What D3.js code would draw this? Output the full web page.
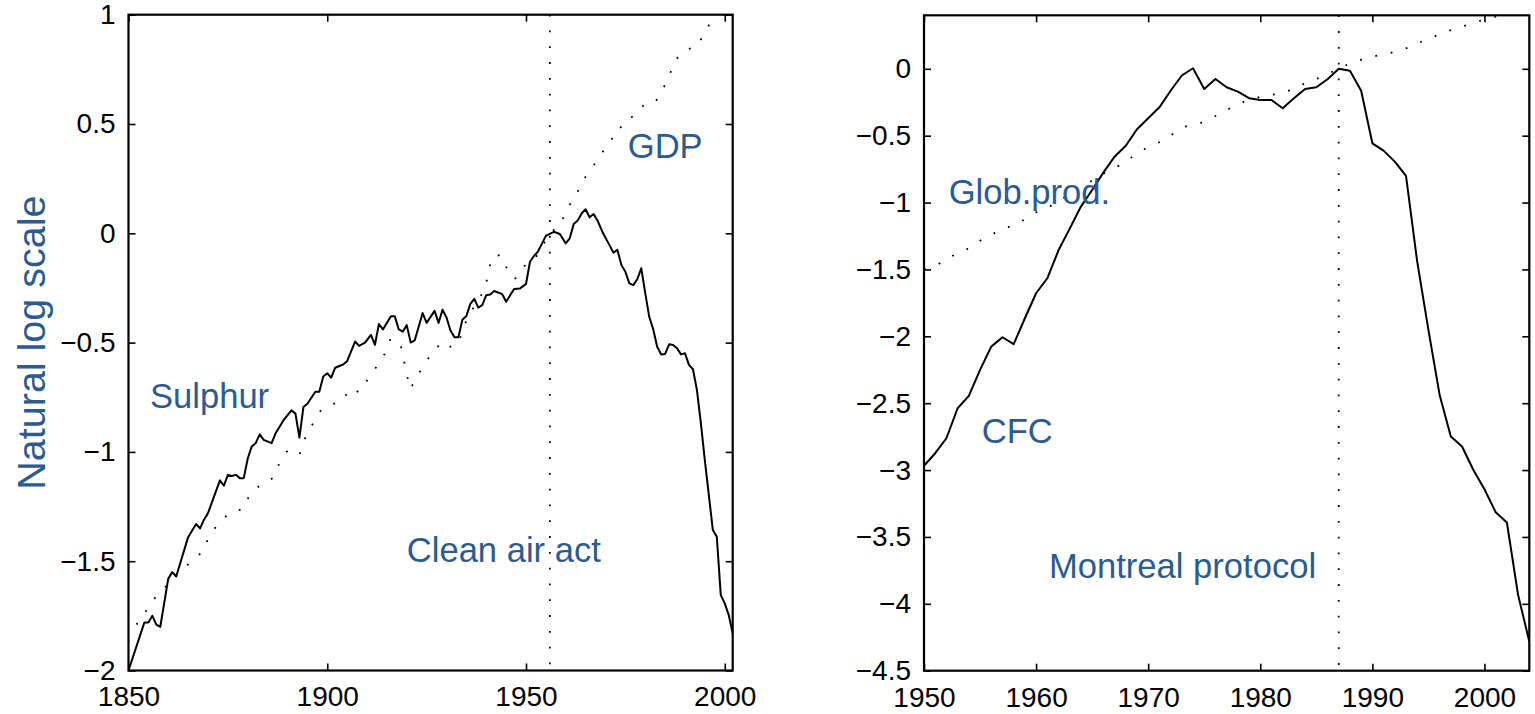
<!DOCTYPE html>
<html>
<head>
<meta charset="utf-8">
<script src="https://d3js.org/d3.v7.min.js"></script>
<style>
  body { margin: 0; background: white; }
  text { font-family: "Liberation Sans", Arial, Helvetica, sans-serif; }
</style>
</head>
<body>
<script>

// ---- data (natural log, normalised) ----

// left panel: sulphur emissions, [year, value]
var sulphur = [
  [1850,-2.00],[1854,-1.78],[1855,-1.78],[1856,-1.75],[1857,-1.79],[1858,-1.80],
  [1860,-1.58],[1861,-1.55],[1862,-1.57],[1865,-1.39],[1867,-1.33],[1868,-1.35],
  [1869,-1.31],[1870,-1.28],[1873,-1.13],[1874,-1.155],[1875,-1.105],[1876,-1.11],
  [1877,-1.105],[1878,-1.12],[1879,-1.12],[1880,-1.03],[1881,-0.975],[1882,-0.96],
  [1883,-0.92],[1884,-0.945],[1886,-0.96],[1887,-0.915],[1889,-0.855],[1891,-0.81],
  [1892,-0.825],[1893,-0.935],[1894,-0.795],[1895,-0.78],[1897,-0.725],[1898,-0.725],
  [1899,-0.655],[1900,-0.64],[1901,-0.66],[1902,-0.615],[1904,-0.60],[1905,-0.585],
  [1907,-0.495],[1908,-0.515],[1909.5,-0.50],[1911,-0.465],[1912,-0.51],[1913,-0.415],
  [1914,-0.44],[1916,-0.38],[1917,-0.38],[1918,-0.44],[1919,-0.45],[1920,-0.42],
  [1921,-0.50],[1922,-0.49],[1924,-0.365],[1925,-0.41],[1927,-0.355],[1928,-0.41],
  [1929,-0.35],[1930,-0.385],[1931,-0.445],[1932,-0.475],[1933,-0.475],[1934,-0.395],
  [1935,-0.378],[1936,-0.323],[1937,-0.30],[1938,-0.34],[1939,-0.328],[1940,-0.283],
  [1941,-0.28],[1942,-0.264],[1944,-0.278],[1945,-0.313],[1947,-0.255],[1948.5,-0.252],
  [1950,-0.232],[1951,-0.13],[1952,-0.104],[1953,-0.084],[1955,-0.012],[1957,0.007],
  [1958.5,-0.003],[1960,-0.046],[1961,-0.023],[1962,0.042],[1963,0.058],[1964,0.091],
  [1965,0.110],[1966,0.073],[1967,0.088],[1968,0.058],[1969.4,0.0],[1971,-0.054],
  [1972,-0.089],[1973,-0.076],[1974,-0.145],[1975,-0.176],[1976,-0.229],[1977,-0.237],
  [1978,-0.21],[1979,-0.16],[1980,-0.274],[1981,-0.382],[1982,-0.439],[1983,-0.519],
  [1984,-0.554],[1985,-0.552],[1986,-0.508],[1987,-0.511],[1988,-0.526],[1989,-0.554],
  [1990,-0.549],[1991,-0.602],[1992,-0.622],[1993,-0.717],[1994,-0.87],[1995,-1.04],
  [1997,-1.357],[1998,-1.388],[1999,-1.655],[2000,-1.693],[2001,-1.746],[2002,-1.83]
]

// left panel: GDP (dotted)
var gdp = [
  [1852,-1.79],[1854,-1.74],[1856,-1.68],[1858.5,-1.635],[1861,-1.58],[1864,-1.53],
  [1866.6,-1.49],[1869,-1.45],[1870.3,-1.38],[1872.6,-1.33],[1875.3,-1.28],[1879,-1.26],
  [1880.6,-1.19],[1883.3,-1.15],[1886.3,-1.12],[1888,-1.05],[1890,-0.994],[1893,-1.014],
  [1894.2,-0.946],[1896.1,-0.88],[1898,-0.817],[1900.5,-0.786],[1903.6,-0.77],[1905.9,-0.709],
  [1908,-0.727],[1910.1,-0.671],[1912.4,-0.61],[1914.4,-0.553],[1915.8,-0.488],[1918.3,-0.496],
  [1920.8,-0.712],[1921.9,-0.682],[1923.8,-0.618],[1925.4,-0.572],[1926.5,-0.557],[1928.5,-0.499],
  [1930.6,-0.521],[1933,-0.506],[1934.1,-0.438],[1935.7,-0.369],[1937.8,-0.313],[1939.7,-0.252],
  [1941.4,-0.107],[1943.6,-0.099],[1945.3,-0.165],[1947.2,-0.21],[1949.3,-0.153],[1952.1,-0.122],
  [1956,0.0],[1958.8,0.042],[1960.2,0.111],[1962.5,0.167],[1964,0.236],[1966.5,0.293],
  [1968.4,0.355],[1971.1,0.409],[1972.6,0.477],[1974.9,0.492],[1977.4,0.549],[1979.7,0.587],
  [1982.5,0.599],[1984.5,0.661],[1986.2,0.729],[1987.7,0.796],[1990.3,0.839],[1993.2,0.858],
  [1995,0.922],[1997.1,0.983],[1998.5,1.03]
]

// right panel: CFC production
var cfc = [
  [1950,-2.968],[1951,-2.874],[1952,-2.762],[1953,-2.538],[1954,-2.445],[1955,-2.251],
  [1956,-2.077],[1957,-2.007],[1958,-2.059],[1959,-1.865],[1960,-1.678],[1961,-1.566],
  [1962,-1.357],[1963,-1.195],[1964,-1.030],[1965,-0.906],[1966,-0.776],[1967,-0.657],
  [1968,-0.575],[1969,-0.452],[1970,-0.370],[1971,-0.288],[1972,-0.164],[1973,-0.05],
  [1974,0.004],[1975,-0.151],[1976,-0.076],[1977,-0.138],[1978,-0.171],[1979,-0.220],
  [1980,-0.233],[1981,-0.233],[1982,-0.295],[1983,-0.220],[1984,-0.151],[1985,-0.138],
  [1986,-0.078],[1987,0.0],[1988,-0.014],[1989,-0.164],[1990,-0.557],[1991,-0.612],
  [1992,-0.694],[1993,-0.801],[1994,-1.442],[1995,-1.952],[1996,-2.438],[1997,-2.749],
  [1998,-2.824],[1999,-2.998],[2000,-3.143],[2001,-3.315],[2002,-3.392],[2003,-3.933],
  [2004,-4.282]
]

// right panel: global production (dotted)
var globProd = [
  [1950,-1.50],[1951.3,-1.46],[1952.5,-1.40],[1953.8,-1.35],[1955,-1.285],[1956.25,-1.23],
  [1957.5,-1.185],[1958.8,-1.135],[1960,-1.072],[1961.3,-1.025],[1965,-0.836],[1966.2,-0.773],
  [1967.4,-0.724],[1968.6,-0.657],[1969.8,-0.594],[1971.1,-0.545],[1972.3,-0.482],[1973.5,-0.425],
  [1974.9,-0.40],[1976.2,-0.345],[1977.4,-0.291],[1978.7,-0.24],[1980.1,-0.208],[1981.5,-0.188],
  [1982.8,-0.158],[1984.1,-0.104],[1985.4,-0.063],[1987,0.0],[1988,0.041],[1989.4,0.079],
  [1990.7,0.103],[1992.1,0.128],[1993.4,0.165],[1994.7,0.215],[1996.1,0.26],[1997.4,0.303],
  [1998.8,0.335],[2000.1,0.372],[2002,0.41]
]

var leftXTicks = [1850, 1900, 1950, 2000]
var leftYTicks = [-2, -1.5, -1, -0.5, 0, 0.5, 1]
var rightXTicks = [1950, 1960, 1970, 1980, 1990, 2000]
var rightYTicks = [-4.5, -4, -3.5, -3, -2.5, -2, -1.5, -1, -0.5, 0]

var leftNotes = [
  {text: "Sulphur", year: 1855.4, value: -0.80},
  {text: "GDP", year: 1975.6, value: 0.343},
  {text: "Clean air act", year: 1920.0, value: -1.502}
]
var rightNotes = [
  {text: "Glob.prod.", year: 1952.2, value: -1.01},
  {text: "CFC", year: 1955.15, value: -2.794},
  {text: "Montreal protocol", year: 1961.15, value: -3.808}
]

var blue = "#2c5b91"

var svg = d3.select("body").append("svg")
            .attr("width", 1535)
            .attr("height", 714)

function fmt(d) {
  return (d < 0 ? "\u2212" : "") + Math.abs(d)
}

function drawPanel(p) {
  var x = d3.scaleLinear().domain(p.xDomain).range([p.left, p.right])
  var y = d3.scaleLinear().domain(p.yDomain).range([p.bottom, p.top])
  var g = svg.append("g")

  g.append("clipPath").attr("id", p.id + "clip")
    .append("rect")
    .attr("x", p.left).attr("y", p.top)
    .attr("width", p.right - p.left).attr("height", p.bottom - p.top)

  // ticks inside on all four sides, MATLAB style
  var axes = [
    [d3.axisBottom(x).tickValues(p.xTicks).tickFormat(fmt), "translate(0," + p.bottom + ")"],
    [d3.axisTop(x).tickValues(p.xTicks).tickFormat(""), "translate(0," + p.top + ")"],
    [d3.axisLeft(y).tickValues(p.yTicks).tickFormat(fmt), "translate(" + p.left + ",0)"],
    [d3.axisRight(y).tickValues(p.yTicks).tickFormat(""), "translate(" + p.right + ",0)"]
  ]
  axes.forEach(function(a, i) {
    var ax = g.append("g").attr("transform", a[1])
      .call(a[0].tickSizeInner(-7).tickSizeOuter(0).tickPadding(i == 0 ? 16 : 13))
    ax.select(".domain").remove()
    ax.selectAll("line").attr("stroke", "black").attr("stroke-width", 1.6)
    ax.selectAll("text").attr("fill", "black").style("font-size", "28px")
  })

  var line = d3.line().x(function(d) { return x(d[0]) }).y(function(d) { return y(d[1]) })
  var plot = g.append("g").attr("clip-path", "url(#" + p.id + "clip)")

  // event marker
  plot.append("line")
    .attr("x1", x(p.event)).attr("x2", x(p.event))
    .attr("y1", p.top).attr("y2", p.bottom)
    .attr("stroke", "black").attr("stroke-width", 1.8)
    .attr("stroke-dasharray", "1.8,14")

  plot.append("path").datum(p.dotted).attr("d", line)
    .attr("fill", "none").attr("stroke", "black").attr("stroke-width", 1.8)
    .attr("stroke-dasharray", "1.8,13.9")

  plot.append("path").datum(p.solid).attr("d", line)
    .attr("fill", "none").attr("stroke", "black").attr("stroke-width", 2)
    .attr("stroke-linejoin", "round")

  g.append("rect")
    .attr("x", p.left).attr("y", p.top)
    .attr("width", p.right - p.left).attr("height", p.bottom - p.top)
    .attr("fill", "none").attr("stroke", "black").attr("stroke-width", 2.2)

  g.selectAll(".note").data(p.notes).enter().append("text")
    .attr("x", function(d) { return x(d.year) })
    .attr("y", function(d) { return y(d.value) })
    .attr("fill", blue)
    .style("font-size", "34.6px")
    .text(function(d) { return d.text })
}

drawPanel({
  id: "left", left: 128.5, right: 732.7, top: 14.7, bottom: 670.5,
  xDomain: [1850, 2002], yDomain: [-2, 1],
  xTicks: leftXTicks, yTicks: leftYTicks,
  solid: sulphur, dotted: gdp, event: 1956, notes: leftNotes
})

drawPanel({
  id: "right", left: 924, right: 1529.3, top: 15.3, bottom: 670.7,
  xDomain: [1950, 2004], yDomain: [-4.5, 0.4],
  xTicks: rightXTicks, yTicks: rightYTicks,
  solid: cfc, dotted: globProd, event: 1987, notes: rightNotes
})

svg.append("text")
  .attr("transform", "translate(45,342.6) rotate(-90)")
  .attr("text-anchor", "middle")
  .attr("fill", blue)
  .style("font-size", "39.5px")
  .text("Natural log scale")

</script>
</body>
</html>
